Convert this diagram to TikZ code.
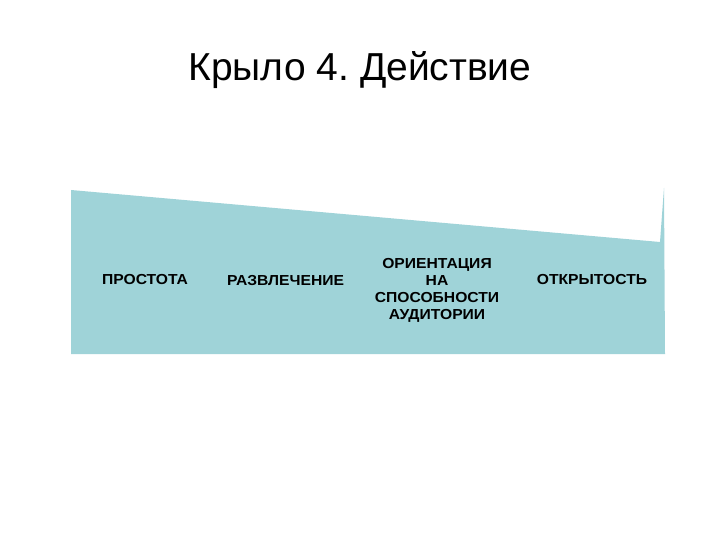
\documentclass[tikz,border=0pt]{standalone}
\usepackage{fontspec}
\setmainfont{Liberation Sans}
\newfontfamily\lblfont[FakeStretch=1.08]{Liberation Sans Bold}
\definecolor{panel}{RGB}{159,211,216}
\begin{document}
\frenchspacing
\begin{tikzpicture}[x=1pt,y=-1pt,
  lbl/.style={font=\lblfont\fontsize{14.5}{17}\selectfont, text=black, align=center, inner sep=0pt}]
\useasboundingbox (0,0) rectangle (720,540);
\node[inner sep=0pt, font=\fontsize{39}{44}\selectfont] (title) at (360,70) {Крыло 4. Действие};
\fill[panel] (71,190) -- (660,242) -- (664,188) -- (665,354) -- (71,354) -- cycle;
\node[lbl] (a) at (145,280) {ПРОСТОТА};
\node[lbl] (b) at (285.5,281) {РАЗВЛЕЧЕНИЕ};
\node[lbl] (c) at (437,290) {ОРИЕНТАЦИЯ\\НА\\СПОСОБНОСТИ\\АУДИТОРИИ};
\node[lbl] (d) at (592,280) {ОТКРЫТОСТЬ};
\end{tikzpicture}
\end{document}
